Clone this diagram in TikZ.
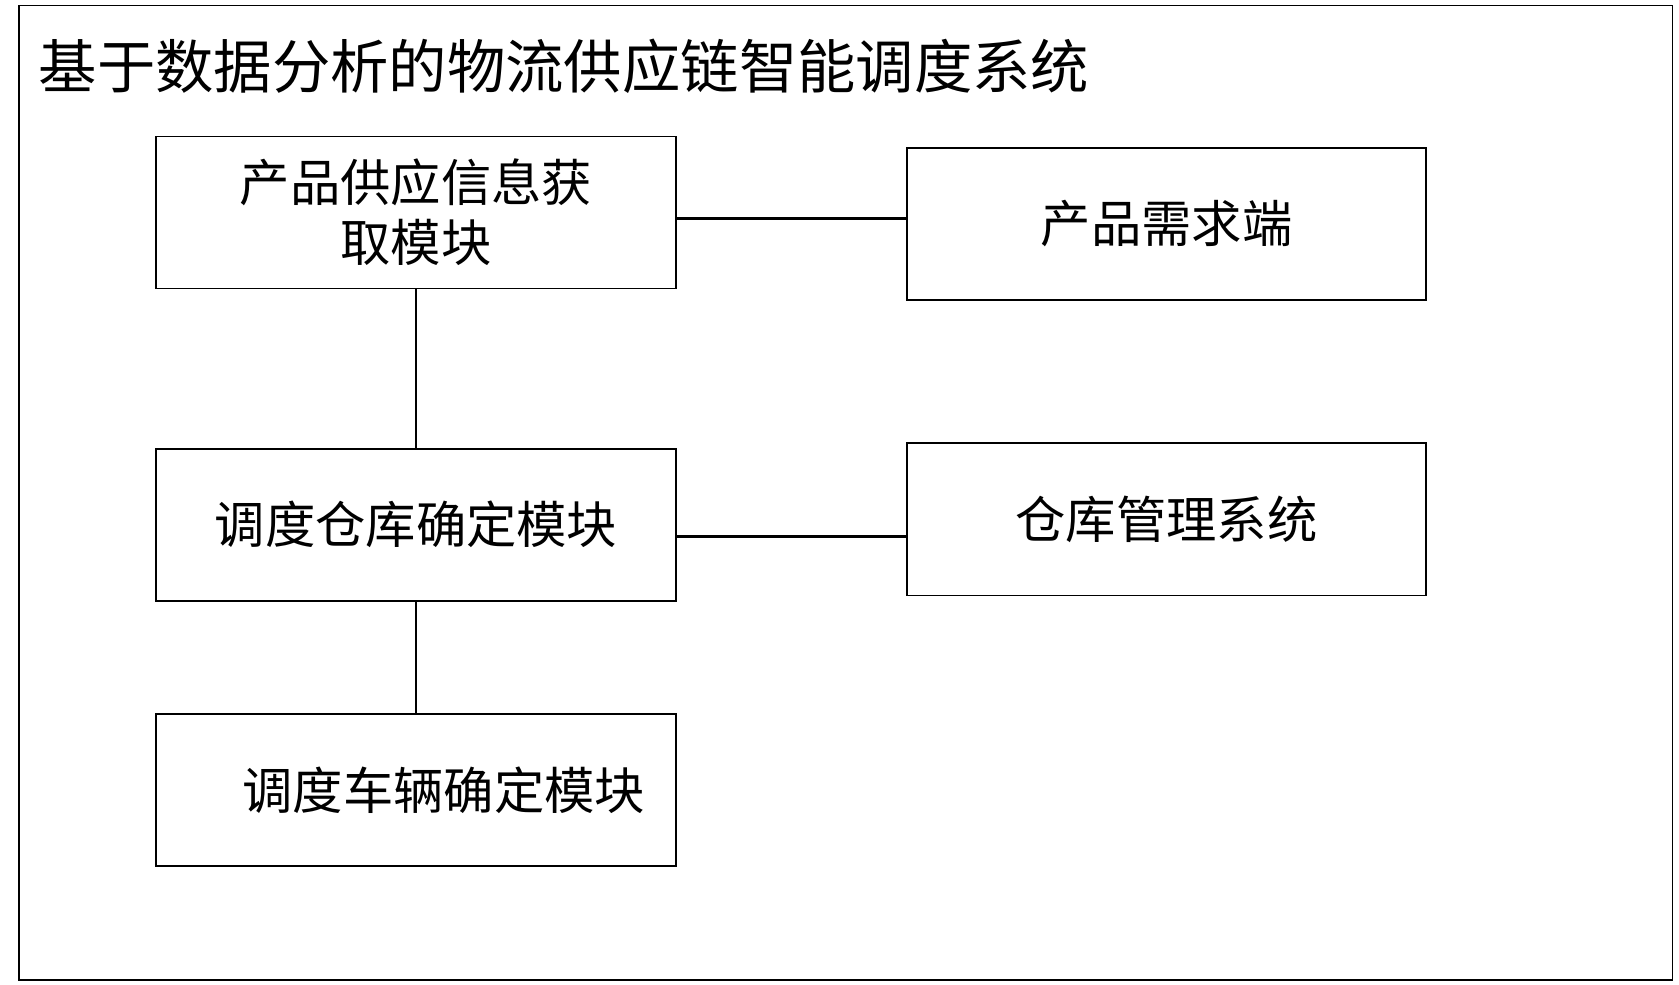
\documentclass[tikz,border=0pt]{standalone}
\usepackage{fontspec}
\newfontfamily\cjk{Noto Sans CJK SC}
\begin{document}
\begin{tikzpicture}[x=1pt,y=-1pt,
  box/.style={draw,line width=1.6pt,minimum width=485pt,minimum height=142pt,inner sep=0pt,font=\cjk\fontsize{47}{56}\selectfont,align=center},
  conn/.style={line width=2pt}]
\useasboundingbox (0,0) rectangle (1568,919);
\draw[line width=1.6pt] (18,5) rectangle (1562,915);
\node[anchor=west,inner sep=0pt,font=\cjk\fontsize{54.5}{60}\selectfont] (title) at (36,62) {基于数据分析的物流供应链智能调度系统};
\node[box] (a) at (388.5,198.5) {产品供应信息获\\取模块};
\node[box] (b) at (1089.5,209) {产品需求端};
\node[box] (c) at (388.5,490) {调度仓库确定模块};
\node[box] (d) at (1089.5,485) {仓库管理系统};
\node[box] (e) at (388.5,738) {\hspace*{52pt}调度车辆确定模块};
\draw[conn] (a.east |- 0,204) -- (b.west |- 0,204);
\draw[conn] (a.south) -- (c.north);
\draw[conn] (c.east |- 0,501) -- (d.west |- 0,501);
\draw[conn] (c.south) -- (e.north);
\end{tikzpicture}
\end{document}
